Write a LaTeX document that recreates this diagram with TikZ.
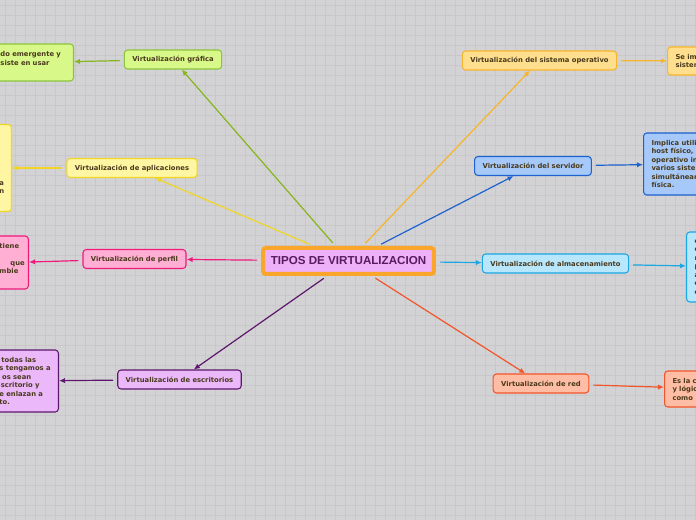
\documentclass[tikz,border=0pt]{standalone}
\usepackage{fontspec}
\setmainfont{DejaVu Sans}
\newfontfamily\titlefont{Liberation Sans}
\usetikzlibrary{arrows.meta}

\definecolor{bgcol}{HTML}{D3D3D5}
\definecolor{gridcol}{HTML}{C8C8CA}
\definecolor{txtcol}{HTML}{4A3A1C}
\definecolor{titlecol}{HTML}{5A1A5F}
\definecolor{violetf}{HTML}{EEB0F9}
\definecolor{orangeb}{HTML}{F9A62A}
\definecolor{greenf}{HTML}{D9F88A}
\definecolor{greend}{HTML}{8CC43C}
\definecolor{greenl}{HTML}{86B51C}
\definecolor{yellowf}{HTML}{FFF6A4}
\definecolor{yellowd}{HTML}{F0D622}
\definecolor{pinkf}{HTML}{FFAED4}
\definecolor{pinkd}{HTML}{F0197C}
\definecolor{purplef}{HTML}{EBB8F9}
\definecolor{purpled}{HTML}{5C176D}
\definecolor{goldf}{HTML}{FFDF8E}
\definecolor{goldd}{HTML}{F7B52B}
\definecolor{bluef}{HTML}{A6C9FA}
\definecolor{blued}{HTML}{1D62D0}
\definecolor{cyanf}{HTML}{B8E6FB}
\definecolor{cyand}{HTML}{1AA7E3}
\definecolor{redf}{HTML}{FFBDA5}
\definecolor{redd}{HTML}{F2552A}

\newcommand*{\xmax}{696}
\newcommand*{\ymax}{520}

\begin{document}
\begin{tikzpicture}
[
	x=0.75pt,
	y=-0.75pt,
	conn/.style={line width=0.9pt,-{Latex[length=4.5pt,width=4pt]},shorten <=3pt},
	branch/.style={draw,rounded corners=2.5pt,line width=0.8pt,text=txtcol,
		font=\bfseries\fontsize{5.1}{6.4}\selectfont,inner xsep=6pt,minimum height=14.25pt},
	leaf/.style={branch,align=left,inner ysep=2pt}
]

	\useasboundingbox (0,0) rectangle (\xmax,\ymax);
	\clip (0,0) rectangle (\xmax,\ymax);

	% grid
	\fill[bgcol] (0,0) rectangle (\xmax,\ymax);
	\foreach \x in {5,15,...,695} {
		\draw[gridcol,line width=0.5pt] (\x,0) -- (\x,\ymax);
	}
	\foreach \y in {5,15,...,515} {
		\draw[gridcol,line width=0.5pt] (0,\y) -- (\xmax,\y);
	}

	% centre
	\node[draw=orangeb,fill=violetf,line width=3pt,rounded corners=2pt,text=titlecol,
		font=\titlefont\bfseries\fontsize{8.7}{10}\selectfont,
		minimum width=128pt,minimum height=19.5pt] (tipos) at (348.5,261) {TIPOS DE VIRTUALIZACION};

	% branches
	\node[branch,fill=greenf,draw=greend] (graf) at (173,59.5) {Virtualización gráfica};
	\node[branch,fill=yellowf,draw=yellowd] (apli) at (132,168) {Virtualización de aplicaciones};
	\node[branch,fill=pinkf,draw=pinkd] (perf) at (134.5,259) {Virtualización de perfil};
	\node[branch,fill=purplef,draw=purpled] (desk) at (179.5,379.5) {Virtualización de escritorios};
	\node[branch,fill=goldf,draw=goldd] (sisop) at (539.5,60.5) {Virtualización del sistema operativo};
	\node[branch,fill=bluef,draw=blued] (serv) at (533,166) {Virtualización del servidor};
	\node[branch,fill=cyanf,draw=cyand] (alma) at (555.5,263.5) {Virtualización de almacenamiento};
	\node[branch,fill=redf,draw=redd] (red) at (541,383.5) {Virtualización de red};

	% leaves (cut by the frame)
	\node[leaf,fill=greenf,draw=greend,anchor=east,inner xsep=8.25pt,text width=46.5pt,
		minimum height=27.75pt] (grafleaf) at (74,62.5) {do emergente y\\siste en usar\\\mbox{}};
	\node[leaf,fill=yellowf,draw=yellowd,anchor=east,inner xsep=5.25pt,text width=3.75pt,
		minimum height=65.25pt] (aplileaf) at (12,168)
		{\mbox{}\\\mbox{}\\\mbox{}\\\mbox{}\\\mbox{}\\\mbox{}\\a\\n\\\mbox{}};
	\node[leaf,fill=pinkf,draw=pinkd,anchor=east,inner xsep=2.25pt,text width=19.5pt,
		minimum height=39.75pt] (perfleaf) at (29,262.5)
		{tiene\\\mbox{}\\\hspace*{8.25pt}que\\mbie\\\mbox{}};
	\node[leaf,fill=purplef,draw=purpled,anchor=east,inner xsep=4.5pt,text width=39.75pt,
		minimum height=46.5pt] (deskleaf) at (59,381)
		{\hspace*{1.5pt}todas las\\s tengamos a\\\hspace*{2pt}os sean\\\hspace*{1pt}scritorio y\\e enlazan a\\to.};
	\node[leaf,fill=goldf,draw=goldd,anchor=west,text width=75pt,
		minimum height=21pt] (sisopleaf) at (667,61) {Se im\\sistem};
	\node[leaf,fill=bluef,draw=blued,anchor=west,text width=75pt,
		minimum height=46.5pt] (servleaf) at (643,164)
		{Implica utili\\host físico,\\operativo in\\varios siste\\simultánear\\física.};
	\node[leaf,fill=cyanf,draw=cyand,anchor=west,text width=75pt,
		minimum height=52.5pt] (almaleaf) at (686,267) {e\\e\\r\\p\\a\\e\\e};
	\node[leaf,fill=redf,draw=redd,anchor=west,text width=75pt,
		minimum height=27pt] (redleaf) at (664,389) {Es la c\\y lógic\\como};

	% connectors
	\draw[conn,greenl] (tipos) -- (graf);
	\draw[conn,yellowd] (tipos) -- (apli);
	\draw[conn,pinkd] (tipos) -- (perf);
	\draw[conn,purpled] (tipos) -- (desk);
	\draw[conn,goldd] (tipos) -- (sisop);
	\draw[conn,blued] (tipos) -- (serv);
	\draw[conn,cyand] (tipos) -- (alma);
	\draw[conn,redd] (tipos) -- (red);

	\draw[conn,greenl] (graf) -- (grafleaf);
	\draw[conn,yellowd] (apli) -- (aplileaf);
	\draw[conn,pinkd] (perf) -- (perfleaf);
	\draw[conn,purpled] (desk) -- (deskleaf);
	\draw[conn,goldd] (sisop) -- (sisopleaf);
	\draw[conn,blued] (serv) -- (servleaf);
	\draw[conn,cyand] (alma) -- (almaleaf);
	\draw[conn,redd] (red) -- (redleaf);

\end{tikzpicture}
\end{document}
